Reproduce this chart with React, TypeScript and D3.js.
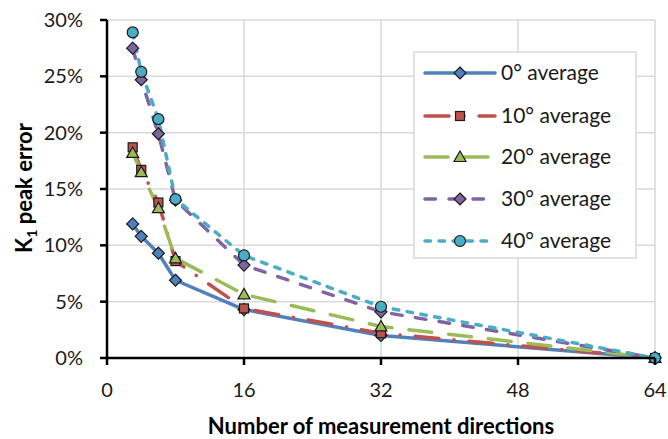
import React from "react";
import * as d3 from "d3";

const xValues = [3, 4, 6, 8, 16, 32, 64];
const seriesNames = ["0° average", "10° average", "20° average", "30° average", "40° average"];
const s0 = [11.9, 10.8, 9.3, 6.9, 4.3, 2.0, 0];
const s10 = [18.7, 16.7, 13.8, 8.6, 4.4, 2.2, 0];
const s20 = [18.2, 16.5, 13.3, 8.85, 5.65, 2.8, 0];
const s30 = [27.5, 24.7, 19.9, 14.0, 8.25, 4.1, 0];
const s40 = [28.9, 25.4, 21.2, 14.1, 9.1, 4.55, 0];
const xTicks = [0, 16, 32, 48, 64];
const yTicks = [0, 5, 10, 15, 20, 25, 30];

const colors = ["#4F81BD", "#C0504D", "#9BBB59", "#8064A2", "#4BACC6"];
const dashes = ["", "24,15,0.1,15", "23,17", "10.5,13.5", "5.5,8.5"];
const markers = ["diamond", "square", "triangle", "diamond", "circle"];
const allSeries = [s0, s10, s20, s30, s40];

const W = 668, H = 439;
const left = 107, right = 655, top = 20, bottom = 358;
const FONT = "Lato, 'Open Sans', sans-serif";

function Marker({ type, x, y, color }: { type: string; x: number; y: number; color: string }) {
  const sw = 1.2, st = "#1a1a1a";
  if (type === "diamond") {
    const r = 6;
    return <path d={`M${x},${y - r}L${x + r},${y}L${x},${y + r}L${x - r},${y}Z`} fill={color} stroke={st} strokeWidth={sw} />;
  }
  if (type === "square") {
    const r = 4.5;
    return <rect x={x - r} y={y - r} width={2 * r} height={2 * r} fill={color} stroke={st} strokeWidth={sw} />;
  }
  if (type === "triangle") {
    const r = 6;
    return <path d={`M${x},${y - r}L${x + r},${y + r * 0.75}L${x - r},${y + r * 0.75}Z`} fill={color} stroke={st} strokeWidth={sw} />;
  }
  return <circle cx={x} cy={y} r={5.5} fill={color} stroke={st} strokeWidth={sw} />;
}

export default function App() {
  const x = d3.scaleLinear().domain([0, 64]).range([left, right]);
  const y = d3.scaleLinear().domain([0, 30]).range([bottom, top]);
  const line = d3.line<number>().x((_, i) => x(xValues[i])).y((d) => y(d));

  const legX = 414, legY = 52, legW = 222, legH = 206;
  const legRows = [73, 116, 157, 199, 241];

  return (
    <svg width={W} height={H} style={{ position: "absolute", left: 0, top: 0, background: "#fff" }}>
      <rect x={0} y={0} width={W} height={H} fill="#fff" />
      {yTicks.map((t) => (
        <line key={"gy" + t} x1={left} x2={right} y1={y(t)} y2={y(t)} stroke="#d9d9d9" strokeWidth={1.5} />
      ))}
      {xTicks.map((t) => (
        <line key={"gx" + t} x1={x(t)} x2={x(t)} y1={top} y2={bottom} stroke="#d9d9d9" strokeWidth={1.5} />
      ))}
      {allSeries.map((s, i) => (
        <path key={"l" + i} d={line(s) || ""} fill="none" stroke={colors[i]} strokeWidth={3.5}
          strokeDasharray={dashes[i] || undefined} strokeLinejoin="round" strokeLinecap="round" />
      ))}
      {allSeries.map((s, i) => (
        <g key={"m" + i}>
          {s.map((v, j) => (
            <Marker key={j} type={markers[i]} x={x(xValues[j])} y={y(v)} color={colors[i]} />
          ))}
        </g>
      ))}
      <line x1={left} x2={left} y1={top} y2={bottom + 1} stroke="#000" strokeWidth={2.5} />
      <line x1={left - 1} x2={right} y1={bottom} y2={bottom} stroke="#000" strokeWidth={2.5} />
      {yTicks.map((t) => (
        <line key={"ty" + t} x1={left - 7} x2={left} y1={y(t)} y2={y(t)} stroke="#000" strokeWidth={2.5} />
      ))}
      {xTicks.map((t) => (
        <line key={"tx" + t} x1={x(t)} x2={x(t)} y1={bottom} y2={bottom + 7} stroke="#000" strokeWidth={2.5} />
      ))}
      {yTicks.map((t) => (
        <text key={"yl" + t} x={83} y={y(t)} dy="0.35em" textAnchor="end" fontFamily={FONT} fontSize={20} fill="#1a1a1a">
          {t + "%"}
        </text>
      ))}
      {xTicks.map((t) => (
        <text key={"xl" + t} x={x(t)} y={397} textAnchor="middle" fontFamily={FONT} fontSize={20} fill="#1a1a1a">
          {t}
        </text>
      ))}
      <text x={381} y={434} textAnchor="middle" fontFamily={FONT} fontSize={22} fontWeight="bold" fill="#000">
        Number of measurement directions
      </text>
      <text transform="translate(32,188) rotate(-90)" textAnchor="middle" fontFamily={FONT} fontSize={22} fontWeight="bold" fill="#000">
        K<tspan fontSize={14} dy={5}>1</tspan><tspan dy={-5}> peak error</tspan>
      </text>
      <rect x={legX} y={legY} width={legW} height={legH} fill="#fff" stroke="#d9d9d9" strokeWidth={1.5} />
      {seriesNames.map((n, i) => (
        <g key={"lg" + i}>
          <line x1={425} x2={495} y1={legRows[i]} y2={legRows[i]} stroke={colors[i]} strokeWidth={3.5}
            strokeDasharray={dashes[i] || undefined} strokeLinecap="round" />
          <Marker type={markers[i]} x={460} y={legRows[i]} color={colors[i]} />
          <text x={501} y={legRows[i]} dy="0.35em" fontFamily={FONT} fontSize={21} fill="#1a1a1a">{n}</text>
        </g>
      ))}
    </svg>
  );
}
